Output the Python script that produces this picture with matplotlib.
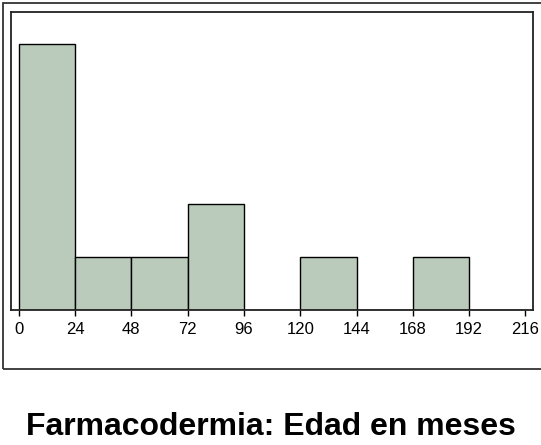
import matplotlib
matplotlib.use("Agg")
import matplotlib.pyplot as plt
from matplotlib.patches import Rectangle

# histogram of age in months, bins of 24
bin_edges = [0, 24, 48, 72, 96, 120, 144, 168, 192]
counts = [5, 1, 1, 2, 0, 1, 0, 1, 0]
tick_values = [0, 24, 48, 72, 96, 120, 144, 168, 192, 216]
title = "Farmacodermia: Edad en meses"

plt.rcParams["font.family"] = ["Liberation Sans", "DejaVu Sans"]

W, H = 541, 445
fig = plt.figure(figsize=(W / 100, H / 100), dpi=100)

# axes box in pixels: left 11, right 533, top 12, bottom 310
ax = fig.add_axes([11 / W, 1 - 310 / H, (533 - 11) / W, (310 - 12) / H])

ax.bar(
    bin_edges,
    counts,
    width=24,
    align="edge",
    color="#bacbbc",
    edgecolor="black",
    linewidth=1.0,
)

ax.set_xlim(-3.3, 219.2)
ax.set_ylim(0, 5.6)
ax.set_xticks(tick_values)
ax.set_xticklabels([str(v) for v in tick_values], fontsize=12)
ax.set_yticks([])
ax.tick_params(axis="x", direction="out", length=4.5, width=1.0, pad=4)
for spine in ax.spines.values():
    spine.set_linewidth(1.3)
    spine.set_color("#222222")

# outer frame around the plot area
frame = Rectangle(
    (3 / W, 1 - 369 / H),
    (545 - 3) / W,
    (369 - 3) / H,
    transform=fig.transFigure,
    fill=False,
    edgecolor="#333333",
    linewidth=1.3,
    clip_on=False,
)
fig.patches.append(frame)

fig.text(271 / W, 1 - 435 / H, title, ha="center", va="baseline",
         fontsize=23, fontweight="bold")

fig.savefig("out.png", dpi=100)
